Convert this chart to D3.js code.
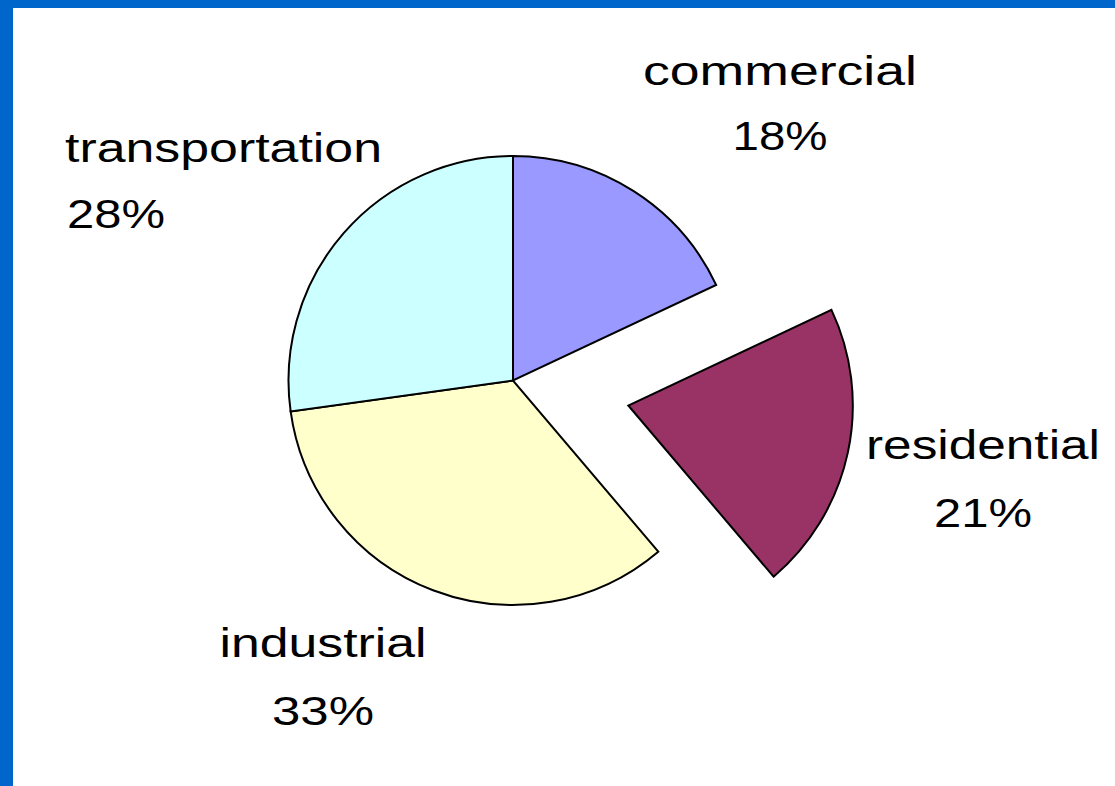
<!DOCTYPE html>
<html>
<head>
<meta charset="utf-8">
<title>Energy use by sector</title>
<script src="https://cdn.jsdelivr.net/npm/d3@7"></script>
<style>
  html, body { margin: 0; padding: 0; background: #fff; }
  svg { display: block; }
  .lbl { font-family: "Liberation Sans", Arial, sans-serif; font-size: 41px; fill: #000; }
</style>
</head>
<body>
<svg id="chart" width="1115" height="786"></svg>
<script>
// data
var sectors = ['commercial', 'residential', 'industrial', 'transportation'];
var shares = [18.0, 20.8, 34.0, 27.2];           // slice sizes as drawn
var pctText = ['18%', '21%', '33%', '28%'];       // labels as printed
var colors = ['#9999ff', '#993366', '#ffffcc', '#ccffff'];
var exploded = [0, 1, 0, 0];

// layout
var width = 1115, height = 786;
var cx = 513, cy = 380.5, radius = 224.5, explodeDist = 118;

// label placement: anchor x, two baselines, anchor, widths of the two lines
var labelLayout = [
  {x: 780, y1: 85, y2: 150, anchor: 'middle', w1: 274, w2: 95},
  {x: 983, y1: 459, y2: 527, anchor: 'middle', w1: 234, w2: 98},
  {x: 323, y1: 657, y2: 725, anchor: 'middle', w1: 207, w2: 102},
  {x: 65, y1: 162, y2: 228, anchor: 'start', w1: 317, w2: 98}
];

var svg = d3.select('#chart');

// blue frame (left and top)
svg.append('rect').attr('x', 0).attr('y', 0).attr('width', width).attr('height', height).attr('fill', '#fff');
svg.append('rect').attr('x', 0).attr('y', 0).attr('width', 13).attr('height', height).attr('fill', '#0066cc');
svg.append('rect').attr('x', 0).attr('y', 0).attr('width', width).attr('height', 8).attr('fill', '#0066cc');

var pie = d3.pie().sort(null).value(function(d) { return d; });
var arc = d3.arc().innerRadius(0).outerRadius(radius);

var arcs = pie(shares);

var g = svg.append('g').attr('transform', 'translate(' + cx + ',' + cy + ')');

g.selectAll('path.slice')
  .data(arcs)
  .enter().append('path')
  .attr('class', 'slice')
  .attr('d', arc)
  .attr('fill', function(d, i) { return colors[i]; })
  .attr('stroke', '#000')
  .attr('stroke-width', 2)
  .attr('stroke-linejoin', 'miter')
  .attr('transform', function(d, i) {
    if (!exploded[i]) return null;
    var a = (d.startAngle + d.endAngle) / 2;
    return 'translate(' + (Math.sin(a) * explodeDist) + ',' + (-Math.cos(a) * explodeDist) + ')';
  });

// labels
var lbl = svg.selectAll('text.lbl')
  .data(sectors)
  .enter().append('text')
  .attr('class', 'lbl')
  .attr('text-anchor', function(d, i) { return labelLayout[i].anchor; });

lbl.append('tspan')
  .attr('x', function(d, i) { return labelLayout[i].x; })
  .attr('y', function(d, i) { return labelLayout[i].y1; })
  .attr('textLength', function(d, i) { return labelLayout[i].w1; })
  .attr('lengthAdjust', 'spacingAndGlyphs')
  .text(function(d) { return d; });

lbl.append('tspan')
  .attr('x', function(d, i) { return labelLayout[i].anchor === 'start' ? labelLayout[i].x + 2 : labelLayout[i].x; })
  .attr('y', function(d, i) { return labelLayout[i].y2; })
  .attr('textLength', function(d, i) { return labelLayout[i].w2; })
  .attr('lengthAdjust', 'spacingAndGlyphs')
  .text(function(d, i) { return pctText[i]; });
</script>
</body>
</html>
